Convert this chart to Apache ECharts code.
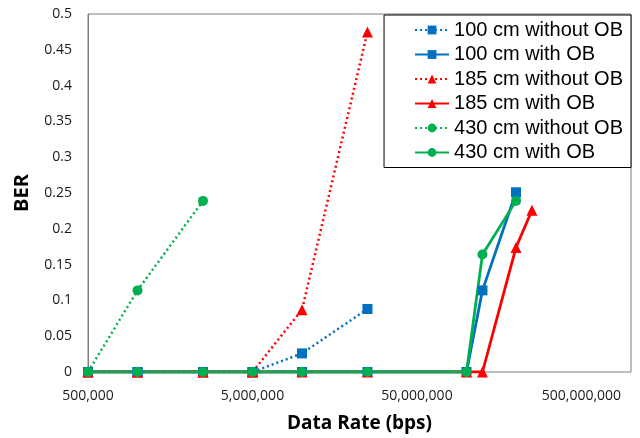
<!DOCTYPE html>
<html><head><meta charset="utf-8">
<script src="https://cdn.jsdelivr.net/npm/echarts@6/dist/echarts.min.js"></script>
<style>html,body{margin:0;padding:0;background:#fff;overflow:hidden}#c{width:640px;height:438px}</style>
</head><body><div id="c"></div>
<script>
const BASE_RATE = 500000;
const xTickLabels = ['500,000', '5,000,000', '50,000,000', '500,000,000'];
const yTickStep = 0.05;

const names = ['100 cm without OB','100 cm with OB','185 cm without OB','185 cm with OB','430 cm without OB','430 cm with OB'];

const rates100wo = [5e5, 1e6, 2.5e6, 5e6, 1e7, 2.5e7];
const ber100wo   = [0, 0, 0, 0, 0.026, 0.088];
const rates100w  = [5e5, 1e6, 2.5e6, 5e6, 1e7, 2.5e7, 1e8, 1.25e8, 2e8];
const ber100w    = [0, 0, 0, 0, 0, 0, 0, 0.114, 0.251];
const rates185wo = [5e5, 1e6, 2.5e6, 5e6, 1e7, 2.5e7];
const ber185wo   = [0, 0, 0, 0, 0.087, 0.475];
const rates185w  = [5e5, 1e6, 2.5e6, 5e6, 1e7, 2.5e7, 1e8, 1.25e8, 2e8, 2.5e8];
const ber185w    = [0, 0, 0, 0, 0, 0, 0, 0, 0.174, 0.226];
const rates430wo = [5e5, 1e6, 2.5e6];
const ber430wo   = [0, 0.114, 0.239];
const rates430w  = [5e5, 1e6, 2.5e6, 5e6, 1e7, 2.5e7, 1e8, 1.25e8, 2e8];
const ber430w    = [0, 0, 0, 0, 0, 0, 0, 0.164, 0.239];

const BLUE = '#0070C0', RED = '#FF0000', GREEN = '#00B050';

function pts(rates, vals) {
  return rates.map((r, i) => [Math.log10(r / BASE_RATE), vals[i]]);
}
function mk(name, rates, vals, color, dotted, symbol, size) {
  return {
    name, type: 'line', data: pts(rates, vals),
    symbol, symbolSize: size,
    itemStyle: { color },
    lineStyle: { color, width: dotted ? 2.5 : 2.8, type: dotted ? [2, 3] : 'solid' },
    showSymbol: true, animation: false
  };
}

const chart = echarts.init(document.getElementById('c'), null, { renderer: 'canvas' });
chart.setOption({
  animation: false,
  grid: { left: 88, right: 9, top: 14, bottom: 64, show: true, borderColor: '#7f7f7f', borderWidth: 1 },
  legend: {
    orient: 'vertical', right: 9, top: 15,
    data: names,
    backgroundColor: '#fff', borderColor: '#000', borderWidth: 1,
    padding: [4, 8, 4, 30],
    itemWidth: 34, itemHeight: 11, itemGap: 2.5,
    textStyle: { fontFamily: 'Liberation Sans', fontSize: 20, color: '#000', lineHeight: 22 }
  },
  xAxis: {
    type: 'value', min: 0, max: Math.log10(1e9 / BASE_RATE), interval: 1,
    name: 'Data Rate (bps)', nameLocation: 'middle', nameGap: 42,
    nameTextStyle: { fontFamily: 'Open Sans', fontWeight: 'bold', fontSize: 19, color: '#000' },
    axisLine: { show: false }, axisTick: { show: false }, splitLine: { show: false },
    axisLabel: {
      showMaxLabel: false, margin: 17,
      fontFamily: 'Open Sans', fontSize: 14, color: '#1a1a1a',
      formatter: v => xTickLabels[Math.round(v)] || ''
    }
  },
  yAxis: {
    type: 'value', min: 0, max: 0.5, interval: yTickStep,
    name: 'BER', nameLocation: 'middle', nameGap: 56,
    nameTextStyle: { fontFamily: 'Open Sans', fontWeight: 'bold', fontSize: 20, color: '#000' },
    axisLine: { show: true, lineStyle: { color: '#7f7f7f' } }, axisTick: { show: false }, splitLine: { show: false },
    axisLabel: {
      margin: 16, fontFamily: 'Open Sans', fontSize: 14, color: '#1a1a1a',
      formatter: v => String(Math.round(v * 100) / 100)
    }
  },
  series: [
    mk(names[0], rates100wo, ber100wo, BLUE, true, 'rect', 10),
    mk(names[1], rates100w, ber100w, BLUE, false, 'rect', 10),
    mk(names[2], rates185wo, ber185wo, RED, true, 'triangle', 11),
    mk(names[3], rates185w, ber185w, RED, false, 'triangle', 11),
    mk(names[4], rates430wo, ber430wo, GREEN, true, 'circle', 10),
    mk(names[5], rates430w, ber430w, GREEN, false, 'circle', 10)
  ]
});
</script></body></html>
